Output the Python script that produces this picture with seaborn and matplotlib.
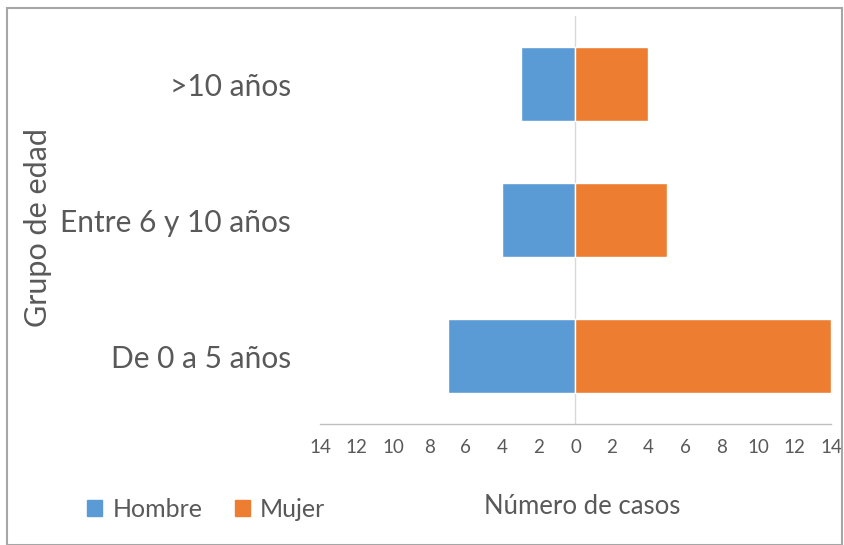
import matplotlib
matplotlib.use('Agg')
import matplotlib.pyplot as plt
import pandas as pd
import seaborn as sns
from matplotlib.patches import Rectangle

grupos = ['>10 años', 'Entre 6 y 10 años', 'De 0 a 5 años']
hombre = [3, 4, 7]
mujer = [4, 5, 14]
series = ['Hombre', 'Mujer']
colores = ['#5B9BD5', '#ED7D31']
ticks = list(range(-14, 15, 2))

df = pd.DataFrame({
    'grupo': grupos * 2,
    'casos': [-v for v in hombre] + mujer,
    'sexo': ['Hombre'] * len(grupos) + ['Mujer'] * len(grupos),
})

sns.set_style('white')
plt.rcParams['font.family'] = ['Lato', 'DejaVu Sans']
gris = '#595959'

fig = plt.figure(figsize=(8.44, 5.45), dpi=100)
ax = fig.add_axes([0.379, 0.222, 0.6056, 0.7486])

sns.barplot(data=df, y='grupo', x='casos', hue='sexo', order=grupos,
            hue_order=series, palette=colores, dodge=False, orient='h',
            width=0.55, saturation=1, legend=False, ax=ax)

ax.set_xlim(-14, 14)
ax.set_ylim(2.5, -0.5)
ax.set_xticks(ticks)
ax.set_xticklabels([str(abs(t)) for t in ticks])
ax.axvline(0, color='#D9D9D9', lw=1, zorder=0)

for s in ['left', 'right', 'top']:
    ax.spines[s].set_visible(False)
ax.spines['bottom'].set_color('#BFBFBF')
ax.spines['bottom'].set_linewidth(1)
ax.tick_params(axis='x', direction='in', length=5, color='#BFBFBF',
               labelsize=13.5, labelcolor=gris, pad=11)
ax.tick_params(axis='y', length=0, labelsize=21.5, labelcolor=gris, pad=21)

ax.set_xlabel('')
ax.set_ylabel('')
fig.text(0.69, 0.07, 'Número de casos', ha='center', va='center',
         fontsize=18.5, color=gris)
fig.text(0.045, 0.582, 'Grupo de edad', ha='center', va='center',
         rotation=90, fontsize=22, color=gris)

handles = [Rectangle((0, 0), 1, 1, color=c) for c in colores]
fig.legend(handles, series, loc='center left', bbox_to_anchor=(0.077, 0.065),
           ncol=2, frameon=False, fontsize=18, handlelength=0.6,
           handleheight=0.6, handletextpad=0.4, columnspacing=1.3,
           labelcolor=gris)

fig.patches.append(Rectangle((0.008, 0.0), 0.99, 0.985, transform=fig.transFigure,
                             fill=False, edgecolor='#A6A6A6', lw=1.5))

fig.savefig('out.png', dpi=100)
